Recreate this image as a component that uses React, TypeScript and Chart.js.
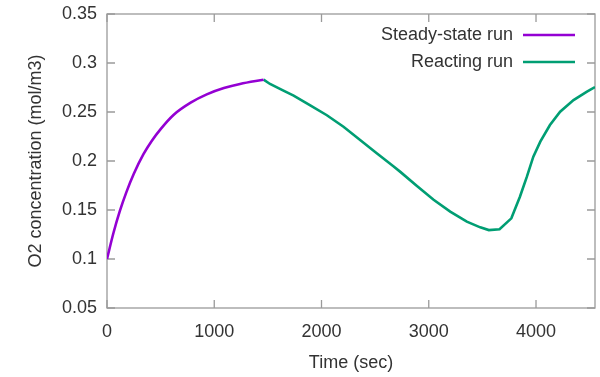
import React, { useEffect, useRef } from "react";
import { Chart, registerables } from "chart.js";

Chart.register(...registerables);

// ---- data ----
const seriesNames = ["Steady-state run", "Reacting run"];
const seriesColors = ["#9400d3", "#009e73"];

const steadyTime = [0, 60, 120, 180, 250, 340, 420, 500, 620, 780, 930, 1090, 1240, 1460];
const steadyO2 = [0.1, 0.1265, 0.149, 0.168, 0.187, 0.207, 0.221, 0.2326, 0.247, 0.2595, 0.268, 0.2744, 0.2786, 0.283];

const reactTime = [
  1460, 1520, 1645, 1740, 1895, 2050, 2205, 2360, 2515, 2670, 2735, 2890, 3045, 3200, 3355, 3480,
  3560, 3660, 3770, 3850, 3915, 3975, 4040, 4130, 4225, 4350, 4475, 4550,
];
const reactO2 = [
  0.283, 0.2786, 0.2718, 0.2668, 0.2567, 0.2467, 0.2349, 0.2215, 0.208, 0.1947, 0.1889, 0.1745, 0.1605,
  0.1483, 0.1381, 0.1323, 0.1295, 0.1303, 0.1415, 0.1635, 0.184, 0.2044, 0.2197, 0.2367, 0.2503, 0.2622,
  0.2707, 0.2755,
];

const xRange = [0, 4550];
const yRange = [0.05, 0.35];
const xTicks = [0, 1000, 2000, 3000, 4000];
const xTickLabels = ["0", "1000", "2000", "3000", "4000"];
const yTicks = [0.05, 0.1, 0.15, 0.2, 0.25, 0.3, 0.35];
const yTickLabels = ["0.05", "0.1", "0.15", "0.2", "0.25", "0.3", "0.35"];
const xTitle = "Time (sec)";
const yTitle = "O2 concentration (mol/m3)";

const FONT = "'Liberation Sans', Arial, sans-serif";
const TEXT = "#333333";
const FRAME = "#9a9a9a";

const framePlugin = {
  id: "gnuFrame",
  beforeDatasetsDraw(chart: any) {
    const { ctx, chartArea, scales } = chart;
    const { left, right, top, bottom } = chartArea;
    const tl = 8;
    ctx.save();
    ctx.strokeStyle = FRAME;
    ctx.lineWidth = 1.3;
    ctx.beginPath();
    xTicks.forEach((v) => {
      const px = scales.x.getPixelForValue(v);
      ctx.moveTo(px, bottom);
      ctx.lineTo(px, bottom - tl);
      ctx.moveTo(px, top);
      ctx.lineTo(px, top + tl);
    });
    yTicks.forEach((v) => {
      const py = scales.y.getPixelForValue(v);
      ctx.moveTo(left, py);
      ctx.lineTo(left + tl, py);
      ctx.moveTo(right, py);
      ctx.lineTo(right - tl, py);
    });
    ctx.stroke();
    ctx.strokeRect(left, top, right - left, bottom - top);
    ctx.restore();
  },
};

const legendPlugin = {
  id: "gnuLegend",
  afterDatasetsDraw(chart: any) {
    const { ctx, chartArea } = chart;
    const { right, top } = chartArea;
    ctx.save();
    ctx.font = `18px ${FONT}`;
    ctx.textAlign = "right";
    ctx.textBaseline = "middle";
    chart.data.datasets.forEach((ds: any, i: number) => {
      const y = top + 21 + i * 27;
      ctx.fillStyle = TEXT;
      ctx.fillText(ds.label, right - 82, y);
      ctx.strokeStyle = ds.borderColor;
      ctx.lineWidth = 2.6;
      ctx.beginPath();
      ctx.moveTo(right - 72, y);
      ctx.lineTo(right - 20, y);
      ctx.stroke();
    });
    ctx.restore();
  },
};

export default function App() {
  const ref = useRef<HTMLCanvasElement | null>(null);

  useEffect(() => {
    document.body.style.margin = "0";
    const canvas = ref.current;
    if (!canvas) return;
    const chart = new Chart(canvas, {
      type: "line",
      data: {
        datasets: [
          {
            label: seriesNames[0],
            data: steadyTime.map((t, i) => ({ x: t, y: steadyO2[i] })),
            borderColor: seriesColors[0],
            backgroundColor: seriesColors[0],
            borderWidth: 2.6,
            pointRadius: 0,
            cubicInterpolationMode: "monotone",
            fill: false,
          },
          {
            label: seriesNames[1],
            data: reactTime.map((t, i) => ({ x: t, y: reactO2[i] })),
            borderColor: seriesColors[1],
            backgroundColor: seriesColors[1],
            borderWidth: 2.6,
            pointRadius: 0,
            tension: 0,
            fill: false,
          },
        ],
      },
      options: {
        animation: false,
        responsive: false,
        devicePixelRatio: 1,
        layout: { padding: { left: 0, right: 5, top: 14, bottom: 0 } },
        plugins: {
          legend: { display: false },
          tooltip: { enabled: false },
        },
        scales: {
          x: {
            type: "linear",
            min: xRange[0],
            max: xRange[1],
            grid: { display: false, drawTicks: false },
            border: { display: false },
            afterBuildTicks: (scale: any) => {
              scale.ticks = xTicks.map((v) => ({ value: v }));
            },
            afterFit: (scale: any) => {
              scale.height = 69;
              scale.paddingLeft = 0;
              scale.paddingRight = 0;
            },
            ticks: {
              padding: 13,
              color: TEXT,
              font: { family: FONT, size: 18 },
              maxRotation: 0,
              callback: (_v: any, i: number) => xTickLabels[i],
            },
            title: {
              display: true,
              text: xTitle,
              color: TEXT,
              font: { family: FONT, size: 18 },
              padding: { top: 0, bottom: 3 },
            },
          },
          y: {
            type: "linear",
            min: yRange[0],
            max: yRange[1],
            grid: { display: false, drawTicks: false },
            border: { display: false },
            afterBuildTicks: (scale: any) => {
              scale.ticks = yTicks.map((v) => ({ value: v }));
            },
            afterFit: (scale: any) => {
              scale.width = 107;
              scale.paddingTop = 0;
              scale.paddingBottom = 0;
            },
            ticks: {
              padding: 10,
              color: TEXT,
              font: { family: FONT, size: 18 },
              callback: (_v: any, i: number) => yTickLabels[i],
            },
            title: {
              display: true,
              text: yTitle,
              color: TEXT,
              font: { family: FONT, size: 18 },
              padding: { top: 25, bottom: 0 },
            },
          },
        },
      },
      plugins: [framePlugin, legendPlugin],
    } as any);
    return () => chart.destroy();
  }, []);

  return (
    <div style={{ position: "fixed", left: 0, top: 0, width: 600, height: 377, background: "#fff" }}>
      <canvas ref={ref} width={600} height={377} />
    </div>
  );
}
